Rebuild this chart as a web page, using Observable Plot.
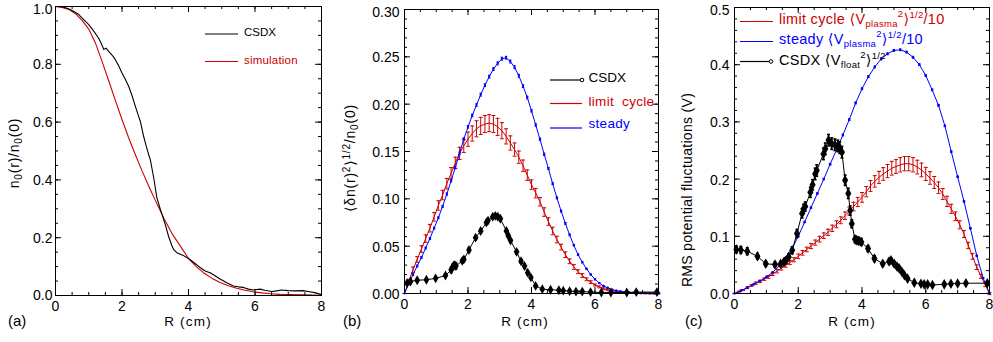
<!DOCTYPE html>
<html><head><meta charset="utf-8">
<script src="https://cdn.jsdelivr.net/npm/d3@7"></script>
<script src="https://cdn.jsdelivr.net/npm/@observablehq/plot@0.6"></script>
<style>
body{margin:0;background:#fff;}
#wrap{display:flex;width:993px;height:342px;overflow:hidden;}
svg{font-family:"Liberation Sans",Arial,Helvetica,sans-serif;}
</style></head><body><div id="wrap"></div>
<script>
const RED = "#cc0000", BLUE = "#0000ff";

// ---- tick labels ----
const xMajor = [0, 2, 4, 6, 8];
const xMinor = [0,0.5,1,1.5,2,2.5,3,3.5,4,4.5,5,5.5,6,6.5,7,7.5,8];
const aYMajor = [0,0.2,0.4,0.6,0.8,1.0];
const bYMajor = [0,0.05,0.10,0.15,0.20,0.25,0.30];
const cYMajor = [0,0.1,0.2,0.3,0.4,0.5];

// ---- panel (a) ----
const aCsdxR = [0,0.2,0.35,0.5,0.7,1.0,1.15,1.3,1.4,1.45,1.52,1.6,1.7,1.8,1.9,2.0,2.1,2.2,2.3,2.4,2.5,2.55,2.65,2.72,2.8,2.85,2.95,3.05,3.15,3.3,3.4,3.5,3.55,3.65,3.75,3.85,4.0,4.15,4.35,4.5,4.65,4.75,4.95,5.15,5.35,5.5,5.65,5.8,5.95,6.05,6.15,6.3,6.5,6.65,6.8,7.0,7.2,7.45,7.6,7.8,8.0];
const aCsdxN = [1.0,0.999,0.994,0.986,0.972,0.937,0.915,0.89,0.866,0.851,0.856,0.845,0.832,0.816,0.795,0.770,0.748,0.724,0.692,0.655,0.62,0.603,0.551,0.52,0.488,0.471,0.41,0.338,0.30,0.246,0.205,0.172,0.16,0.148,0.143,0.138,0.128,0.115,0.097,0.085,0.079,0.072,0.057,0.044,0.033,0.030,0.028,0.022,0.019,0.021,0.022,0.018,0.014,0.016,0.019,0.017,0.016,0.017,0.014,0.010,0.003];
const aSimR = [0,0.2,0.4,0.6,0.8,1.0,1.2,1.4,1.6,1.8,2.0,2.2,2.4,2.6,2.85,3.0,3.25,3.5,3.65,3.8,4.0,4.25,4.45,4.7,4.95,5.2,5.45,5.7,5.95,6.2,6.45,6.75,7.05,7.5,8.0];
const aSimN = [1.0,0.997,0.99,0.975,0.952,0.922,0.874,0.81,0.743,0.675,0.609,0.546,0.488,0.432,0.367,0.33,0.269,0.215,0.189,0.163,0.128,0.098,0.079,0.06,0.045,0.034,0.025,0.018,0.013,0.009,0.006,0.004,0.003,0.002,0.001];

// ---- panel (b) ----
const gridB = d3.range(61).map(k => k * 8 / 60);
const bSteady = [0,0.010,0.020,0.029,0.038,0.048,0.058,0.069,0.080,0.092,
 0.105,0.119,0.133,0.148,0.163,0.176,0.188,0.199,0.210,0.220,
 0.229,0.237,0.243,0.248,0.249,0.245,0.239,0.230,0.219,0.207,
 0.193,0.178,0.163,0.147,0.132,0.116,0.101,0.087,0.074,0.062,
 0.051,0.041,0.033,0.026,0.020,0.015,0.011,0.008,0.006,0.004,
 0.003,0.002,0.0015,0.001,0.0008,0.0006,0.0004,0.0003,0.0002,0.0001,0];
const bSteadyErr = [0,0.001,0.001,0.001,0.001,0.001,0.001,0.001,0.001,0.001,
 0.0012,0.0012,0.0012,0.0013,0.0013,0.0014,0.0014,0.0014,0.0015,0.0015,
 0.0015,0.0015,0.0015,0.0015,0.0015,0.0015,0.0015,0.0015,0.0014,0.0014,
 0.0013,0.0013,0.0012,0.0012,0.0011,0.001,0.001,0.001,0.001,0.001,
 0.0008,0.0008,0.0007,0.0007,0.0006,0.0006,0.0005,0.0005,0.0005,0.0005,
 0.0004,0.0004,0.0004,0.0004,0.0003,0.0003,0.0003,0.0003,0.0003,0.0003,0];
const bLimit = [0,0.013,0.025,0.036,0.047,0.058,0.069,0.081,0.093,0.104,
 0.116,0.127,0.138,0.148,0.156,0.163,0.169,0.174,0.177,0.179,
 0.180,0.179,0.176,0.172,0.166,0.159,0.152,0.144,0.135,0.125,
 0.115,0.106,0.097,0.086,0.076,0.066,0.057,0.049,0.041,0.034,
 0.028,0.023,0.019,0.015,0.012,0.009,0.007,0.005,0.004,0.003,
 0.002,0.0015,0.001,0.0008,0.0006,0.0004,0.0003,0.0002,0.0001,0.0001,0];
const bLimitErr = [0,0.002,0.003,0.003,0.0035,0.004,0.004,0.0045,0.005,0.005,
 0.0055,0.006,0.006,0.0065,0.007,0.0075,0.008,0.0085,0.009,0.009,
 0.009,0.009,0.009,0.0085,0.008,0.0075,0.007,0.0065,0.006,0.0055,
 0.005,0.005,0.0045,0.0045,0.004,0.004,0.0035,0.003,0.003,0.0025,
 0.0025,0.002,0.002,0.0015,0.0015,0.001,0.001,0.001,0.001,0.001,
 0.001,0.001,0.0005,0.0005,0.0005,0.0005,0.0005,0.0005,0.0005,0.0005,0.0005];
const bCsdxR = [0.08,0.19,0.4,0.69,0.98,1.29,1.47,1.52,1.57,1.62,1.82,1.87,2.03,2.24,2.4,2.58,2.63,2.78,2.86,2.94,3.02,3.21,3.27,3.34,3.53,3.67,3.78,3.88,3.98,4.13,4.34,4.6,4.86,5.0,5.2,5.4,5.6,5.86,6.2,6.5,7.0,7.3,7.95];
const bCsdxV = [0.011,0.0127,0.014,0.0145,0.016,0.019,0.025,0.028,0.03,0.029,0.0345,0.036,0.046,0.059,0.066,0.075,0.077,0.081,0.082,0.081,0.079,0.066,0.061,0.056,0.044,0.034,0.029,0.022,0.017,0.008,0.0046,0.004,0.0035,0.003,0.0025,0.002,0.002,0.0015,0.001,0.001,0.001,0.0015,0.0015];
const bCsdxErr = [0.001,0.001,0.001,0.001,0.001,0.0015,0.003,0.003,0.003,0.003,0.002,0.002,0.002,0.002,0.002,0.002,0.002,0.002,0.002,0.002,0.002,0.002,0.002,0.002,0.002,0.002,0.002,0.002,0.001,0.001,0.001,0.001,0.001,0.001,0.001,0.001,0.001,0.001,0.001,0.001,0.001,0.001,0.001];

// ---- panel (c) ----
const gridC41 = d3.range(41).map(k => k * 0.2);
const cSteady = [0,0.005,0.010,0.016,0.022,0.029,0.037,0.048,0.062,0.078,
 0.100,0.125,0.150,0.175,0.200,0.226,0.251,0.277,0.304,0.333,
 0.358,0.379,0.396,0.410,0.419,0.425,0.426,0.422,0.413,0.400,
 0.381,0.356,0.329,0.293,0.248,0.204,0.161,0.114,0.066,0.027,0];
const cSteadyErr = [0,0.001,0.001,0.001,0.001,0.001,0.001,0.001,0.001,0.001,
 0.0012,0.0012,0.0012,0.0013,0.0013,0.0014,0.0014,0.0015,0.0015,0.0015,
 0.0016,0.0016,0.0016,0.0016,0.0016,0.0016,0.0016,0.0016,0.0016,0.0016,
 0.0015,0.0015,0.0015,0.0014,0.0014,0.0013,0.0012,0.0012,0.001,0.001,0];
const gridC61 = d3.range(61).map(k => k * 8 / 60);
const cLimit = [0,0.003,0.006,0.010,0.014,0.018,0.021,0.025,0.029,0.034,
 0.039,0.044,0.049,0.054,0.059,0.065,0.071,0.077,0.083,0.089,
 0.095,0.101,0.107,0.114,0.121,0.128,0.136,0.144,0.152,0.160,
 0.168,0.178,0.188,0.196,0.203,0.209,0.214,0.219,0.222,0.225,
 0.227,0.227,0.225,0.221,0.216,0.209,0.202,0.194,0.185,0.174,
 0.161,0.148,0.135,0.120,0.104,0.084,0.065,0.046,0.030,0.015,0];
const cLimitErr = [0,0.001,0.001,0.0015,0.0015,0.002,0.002,0.002,0.0025,0.0025,
 0.003,0.003,0.003,0.0035,0.0035,0.004,0.004,0.004,0.0045,0.0045,
 0.005,0.005,0.0055,0.0055,0.006,0.006,0.0065,0.007,0.0075,0.008,
 0.0085,0.009,0.0095,0.01,0.0105,0.011,0.0115,0.012,0.012,0.0125,
 0.0125,0.0125,0.0125,0.012,0.012,0.0115,0.011,0.0105,0.01,0.0095,
 0.009,0.008,0.0075,0.007,0.006,0.0055,0.005,0.004,0.0035,0.003,0.002];
const cCsdxR = [0.06,0.2,0.4,0.72,0.98,1.27,1.45,1.55,1.62,1.7,1.81,1.96,2.12,2.17,2.22,2.38,2.45,2.53,2.58,2.79,2.85,2.95,3.05,3.15,3.24,3.3,3.37,3.47,3.57,3.63,3.68,3.78,3.83,3.9,3.98,4.19,4.39,4.65,4.85,4.91,5.01,5.1,5.17,5.25,5.33,5.43,5.64,5.85,5.95,6.06,6.21,6.58,6.79,7.0,7.26,7.93];
const cCsdxV = [0.077,0.076,0.074,0.065,0.052,0.0506,0.052,0.055,0.058,0.064,0.0756,0.105,0.14,0.148,0.152,0.177,0.19,0.209,0.215,0.244,0.253,0.268,0.262,0.26,0.258,0.255,0.247,0.198,0.175,0.145,0.122,0.095,0.093,0.092,0.09,0.0785,0.061,0.052,0.056,0.058,0.052,0.047,0.0436,0.038,0.032,0.026,0.019,0.017,0.016,0.016,0.015,0.016,0.017,0.0175,0.018,0.018];
const cCsdxErr = [0.006,0.006,0.006,0.005,0.004,0.004,0.004,0.004,0.005,0.005,0.006,0.007,0.008,0.008,0.008,0.009,0.009,0.01,0.01,0.01,0.01,0.01,0.01,0.01,0.01,0.01,0.01,0.009,0.009,0.008,0.007,0.006,0.006,0.006,0.006,0.005,0.005,0.004,0.004,0.004,0.004,0.004,0.003,0.003,0.003,0.003,0.002,0.002,0.002,0.002,0.002,0.002,0.002,0.002,0.002,0.002];

// ---- helpers ----
const tbl = (R, V, E) => R.map((r, i) => ({r, v: V[i], e: E ? E[i] : 0}));
const hbar = {draw(ctx, size) { const w = Math.sqrt(size / Math.PI); ctx.moveTo(-w, 0); ctx.lineTo(w, 0); }};

function errMarks(data, color, cap, sw = 1) {
  return [
    Plot.ruleX(data, {x: "r", y1: d => d.v - d.e, y2: d => d.v + d.e, stroke: color, strokeWidth: sw}),
    Plot.dot(data, {x: "r", y: d => d.v - d.e, symbol: hbar, r: cap, stroke: color, fill: "none", strokeWidth: sw}),
    Plot.dot(data, {x: "r", y: d => d.v + d.e, symbol: hbar, r: cap, stroke: color, fill: "none", strokeWidth: sw})
  ];
}

function makePanel({width, ml, mr, mt, mb, yDomain, yMajor, yMinor, yFmt, tickPad, ydy, topDy, marks}) {
  const H = 342, ph = H - mt - mb, pw = width - ml - mr;
  const yTop = yMajor[yMajor.length - 1];
  return Plot.plot({
    width, height: H, marginLeft: ml, marginRight: mr, marginTop: mt, marginBottom: mb,
    x: {domain: [0, 8]}, y: {domain: yDomain},
    style: {fontFamily: '"Liberation Sans",Arial,Helvetica,sans-serif', fontSize: "14px", background: "white", color: "black", overflow: "visible"},
    marks: [
      ...marks,
      Plot.frame({stroke: "black", strokeWidth: 1}),
      Plot.tickX(xMinor, {x: d => d, insetTop: ph - 3, stroke: "black"}),
      Plot.tickX(xMinor, {x: d => d, insetBottom: ph - 3, stroke: "black"}),
      Plot.tickX(xMajor, {x: d => d, insetTop: ph - 6, stroke: "black"}),
      Plot.tickX(xMajor, {x: d => d, insetBottom: ph - 6, stroke: "black"}),
      Plot.tickY(yMinor, {y: d => d, insetRight: pw - 3, stroke: "black"}),
      Plot.tickY(yMinor, {y: d => d, insetLeft: pw - 3, stroke: "black"}),
      Plot.tickY(yMajor, {y: d => d, insetRight: pw - 6, stroke: "black"}),
      Plot.tickY(yMajor, {y: d => d, insetLeft: pw - 6, stroke: "black"}),
      Plot.axisX({ticks: xMajor, tickSize: 0, tickPadding: 6, tickFormat: d => String(d), label: null, fontSize: 14}),
      Plot.axisY({ticks: yMajor.slice(0, -1), tickSize: 0, tickPadding: tickPad, tickFormat: yFmt, label: null, fontSize: 14, dy: ydy || 0}),
      Plot.axisY({ticks: [yTop], tickSize: 0, tickPadding: tickPad, tickFormat: yFmt, label: null, fontSize: 14, dy: topDy || 0})
    ]
  });
}

const wrap = document.getElementById("wrap");

// ---- (a) ----
const aMinorY = d3.range(0, 21).map(k => k * 0.05);
const svgA = makePanel({
  width: 330, ml: 55, mr: 9, mt: 6, mb: 47, yDomain: [0, 1], yMajor: aYMajor, yMinor: aMinorY,
  yFmt: d => d.toFixed(1), tickPad: 3, ydy: 0.5, topDy: 3,
  marks: [
    Plot.line(tbl(aSimR, aSimN), {x: "r", y: "v", stroke: RED, strokeWidth: 1.1}),
    Plot.line(tbl(aCsdxR, aCsdxN), {x: "r", y: "v", stroke: "black", strokeWidth: 1.1})
  ]
});
wrap.appendChild(svgA);

// ---- (b) ----
const bMinorY = d3.range(0, 31).map(k => k * 0.01);
const bSt = tbl(gridB, bSteady, bSteadyErr), bLc = tbl(gridB, bLimit, bLimitErr), bCs = tbl(bCsdxR, bCsdxV, bCsdxErr);
const svgB = makePanel({
  width: 332, ml: 74, mr: 4, mt: 9, mb: 49, yDomain: [0, 0.30], yMajor: bYMajor, yMinor: bMinorY,
  yFmt: d => d.toFixed(2), tickPad: 5, ydy: 1, topDy: 3,
  marks: [
    Plot.line(bLc, {x: "r", y: "v", stroke: RED, strokeWidth: 1}),
    ...errMarks(bLc, RED, 2),
    Plot.line(bSt, {x: "r", y: "v", stroke: BLUE, strokeWidth: 1}),
    ...errMarks(bSt, BLUE, 1.2),
    Plot.dot(bSt, {x: "r", y: "v", r: 1.1, fill: BLUE}),
    Plot.line(bCs, {x: "r", y: "v", stroke: "black", strokeWidth: 1}),
    ...errMarks(bCs, "black", 1.5, 1.6),
    Plot.dot(bCs, {x: "r", y: "v", symbol: "diamond", r: 3, fill: "black"})
  ]
});
wrap.appendChild(svgB);

// ---- (c) ----
const cMinorY = d3.range(0, 26).map(k => k * 0.02);
const cSt = tbl(gridC41, cSteady, cSteadyErr), cLc = tbl(gridC61, cLimit, cLimitErr), cCs = tbl(cCsdxR, cCsdxV, cCsdxErr);
const svgC = makePanel({
  width: 331, ml: 72, mr: 4, mt: 7, mb: 49, yDomain: [0, 0.5], yMajor: cYMajor, yMinor: cMinorY,
  yFmt: d => d.toFixed(1), tickPad: 5, ydy: 1, topDy: 3.5,
  marks: [
    Plot.line(cLc, {x: "r", y: "v", stroke: RED, strokeWidth: 1}),
    ...errMarks(cLc, RED, 2),
    Plot.line(cSt, {x: "r", y: "v", stroke: BLUE, strokeWidth: 1}),
    ...errMarks(cSt, BLUE, 1.2),
    Plot.dot(cSt, {x: "r", y: "v", r: 1.2, fill: BLUE}),
    Plot.line(cCs, {x: "r", y: "v", stroke: "black", strokeWidth: 1}),
    ...errMarks(cCs, "black", 1.5, 1.6),
    Plot.dot(cCs, {x: "r", y: "v", symbol: "diamond", r: 3.2, fill: "black"})
  ]
});
wrap.appendChild(svgC);

// ---- annotations (titles, legends, panel letters) ----
const FONT = '"Liberation Sans","DejaVu Sans",Arial,sans-serif';
function txt(svg, x, y, html, o = {}) {
  const t = d3.select(svg).append("text").attr("x", x).attr("y", y)
    .attr("font-family", FONT).attr("font-size", o.size || 13).attr("fill", o.fill || "black")
    .attr("text-anchor", o.anchor || "start");
  if (o.ls) t.attr("letter-spacing", o.ls);
  if (o.rotate) t.attr("transform", `rotate(-90 ${x} ${y})`);
  t.html(html);
  return t;
}
function legLine(svg, x1, x2, y, color, circle) {
  const g = d3.select(svg);
  g.append("line").attr("x1", x1).attr("x2", x2).attr("y1", y).attr("y2", y).attr("stroke", color).attr("stroke-width", 1.2);
  if (circle) g.append("circle").attr("cx", x2).attr("cy", y).attr("r", 1.8).attr("fill", "white").attr("stroke", color).attr("stroke-width", 1);
}

// panel letters and x titles
txt(svgA, 8, 326, "(a)", {size: 15});
txt(svgB, 13, 326, "(b)", {size: 15});
txt(svgC, 23, 326, "(c)", {size: 15});
txt(svgA, 188, 326, "R (cm)", {anchor: "middle", ls: 1.2, size: 13.5});
txt(svgB, 195, 326, "R (cm)", {anchor: "middle", ls: 1.2, size: 13.5});
txt(svgC, 190, 326, "R (cm)", {anchor: "middle", ls: 1.2, size: 13.5});

// y titles
txt(svgA, 19, 153, `n<tspan font-size="10" dy="3">0</tspan><tspan dy="-3">(r)/n</tspan><tspan font-size="10" dy="3">0</tspan><tspan dy="-3">(0)</tspan>`, {anchor: "middle", rotate: true, size: 14, ls: 0.8});
txt(svgB, 25, 158, `⟨δn(r)<tspan font-size="10" dy="-5">2</tspan><tspan dy="5">⟩</tspan><tspan font-size="10" dy="-5">1/2</tspan><tspan dy="5">/n</tspan><tspan font-size="10" dy="3">0</tspan><tspan dy="-3">(0)</tspan>`, {anchor: "middle", rotate: true, size: 14, ls: 0.8});
txt(svgC, 30, 190, "RMS potential fluctuations (V)", {anchor: "middle", rotate: true, size: 14, ls: 0.3});

// legend (a)
legLine(svgA, 205, 238, 34, "black");
txt(svgA, 244, 36, "CSDX", {size: 11.5});
legLine(svgA, 205, 238, 61.5, RED);
txt(svgA, 244, 63.5, "simulation", {size: 11.5, fill: RED, ls: 0.2});

// legend (b)
legLine(svgB, 220, 252, 80, "black", true);
txt(svgB, 258.5, 81.5, "CSDX", {size: 13.5});
legLine(svgB, 220, 252, 103.5, RED);
txt(svgB, 258.5, 105.5, "limit  cycle", {size: 13.5, fill: RED, ls: 0.3});
legLine(svgB, 220, 252, 128, BLUE);
txt(svgB, 258.5, 127.5, "steady", {size: 13.5, fill: BLUE, ls: 0.3});

// legend (c)
const vpl = `⟨V<tspan font-size="9.5" dy="3">plasma</tspan><tspan font-size="9.5" dy="-10">2</tspan><tspan dy="7">⟩</tspan><tspan font-size="9.5" dy="-6">1/2</tspan><tspan dy="6">/10</tspan>`;
legLine(svgC, 78, 111, 21.5, RED);
txt(svgC, 117, 24, "limit cycle " + vpl, {size: 14.5, fill: RED, ls: 0.3});
legLine(svgC, 78, 111, 41.5, BLUE);
txt(svgC, 117, 44, "steady " + vpl, {size: 14.5, fill: BLUE, ls: 0.3});
legLine(svgC, 78, 109, 61.5, "black", true);
txt(svgC, 117, 64.5, `CSDX ⟨V<tspan font-size="9.5" dy="3">float</tspan><tspan font-size="9.5" dy="-10">2</tspan><tspan dy="7">⟩</tspan><tspan font-size="9.5" dy="-6">1/2</tspan>`, {size: 14.5, ls: 0.3});
</script></body></html>
